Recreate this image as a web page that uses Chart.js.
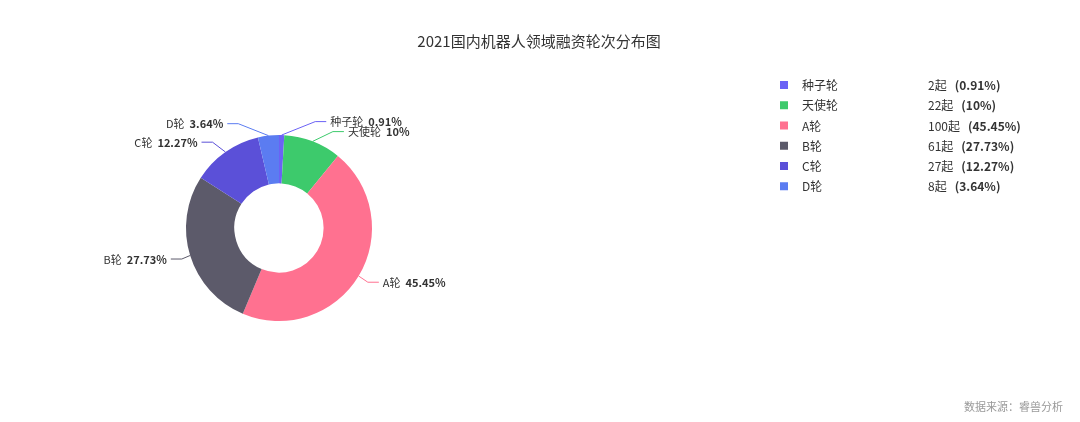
<!DOCTYPE html>
<html>
<head>
<meta charset="utf-8">
<script src="https://cdn.jsdelivr.net/npm/chart.js@4.4.1/dist/chart.umd.min.js"></script>
<style>
  html, body { margin: 0; padding: 0; background: #ffffff; }
  #wrap { width: 1080px; height: 422px; position: relative; }
  canvas { display: block; }
</style>
</head>
<body>
<div id="wrap"><canvas id="c" width="1080" height="422"></canvas></div>
<script>
// ---- data ----
const TITLE = '2021国内机器人领域融资轮次分布图';
const SOURCE = '数据来源：睿兽分析';
const categories = ['种子轮', '天使轮', 'A轮', 'B轮', 'C轮', 'D轮'];
const counts = [2, 22, 100, 61, 27, 8];
const colors = ['#6b62f5', '#3dca6c', '#ff7190', '#5c5a6a', '#5b50d8', '#5b7cf1'];
const unit = '起';

const total = counts.reduce((a, b) => a + b, 0);
function pctText(v) {
  const p = Math.round(v / total * 10000) / 100;
  return String(p) + '%';
}

const FONT = "'Noto Sans CJK SC', 'Noto Sans', sans-serif";

const decorPlugin = {
  id: 'decor',
  afterDatasetsDraw(chart) {
    const ctx = chart.ctx;
    const meta = chart.getDatasetMeta(0);
    const MIN_GAP = 10;
    const items = meta.data.map((arc, i) => {
      const p = arc.getProps(['x', 'y', 'startAngle', 'endAngle', 'outerRadius'], true);
      const mid = (p.startAngle + p.endAngle) / 2;
      const ux = Math.cos(mid), uy = Math.sin(mid);
      const r = p.outerRadius;
      return {
        i, cx: p.x, cy: p.y, r,
        p0x: p.x + r * ux, p0y: p.y + r * uy,
        side: ux >= 0 ? 1 : -1,
        y: p.y + (r + 12) * uy
      };
    });
    [1, -1].forEach(side => {
      const list = items.filter(it => it.side === side).sort((a, b) => a.y - b.y);
      for (let iter = 0; iter < 30; iter++) {
        let moved = false;
        for (let k = 1; k < list.length; k++) {
          const gap = list[k].y - list[k - 1].y;
          if (gap < MIN_GAP - 0.01) {
            const d = (MIN_GAP - gap) / 2;
            list[k - 1].y -= d;
            list[k].y += d;
            moved = true;
          }
        }
        if (!moved) break;
      }
    });
    ctx.save();
    items.forEach(it => {
      const a = it.r + 8, b = it.r + 21;
      const ddy = it.y - it.cy;
      const ex = it.cx + it.side * a * Math.sqrt(Math.max(0, 1 - ddy * ddy / (b * b)));
      const ey = it.y;
      const lx = ex + it.side * 11;
      ctx.strokeStyle = colors[it.i];
      ctx.lineWidth = 1;
      ctx.beginPath();
      ctx.moveTo(it.p0x, it.p0y);
      ctx.lineTo(ex, ey);
      ctx.lineTo(lx, ey);
      ctx.stroke();

      const tx = lx + it.side * 4;
      const name = categories[it.i];
      const pct = pctText(counts[it.i]);
      ctx.textBaseline = 'middle';
      ctx.fillStyle = '#333333';
      ctx.font = `11px ${FONT}`;
      const nameW = ctx.measureText(name).width + 5;
      ctx.font = `bold 11px ${FONT}`;
      const pctW = ctx.measureText(pct).width;
      const startX = it.side > 0 ? tx : tx - nameW - pctW;
      ctx.textAlign = 'left';
      ctx.font = `11px ${FONT}`;
      ctx.fillText(name, startX, ey + 0.5);
      ctx.font = `bold 11px ${FONT}`;
      ctx.fillText(pct, startX + nameW, ey + 0.5);
    });
    ctx.restore();
  },
  afterDraw(chart) {
    const ctx = chart.ctx;
    ctx.save();
    // title
    ctx.fillStyle = '#333333';
    ctx.font = `15px ${FONT}`;
    ctx.textAlign = 'center';
    ctx.textBaseline = 'middle';
    ctx.fillText(TITLE, 539, 41);

    // legend
    const top = 85, step = 20.25;
    categories.forEach((name, i) => {
      const y = top + i * step;
      ctx.fillStyle = colors[i];
      ctx.fillRect(780, y - 4, 8, 8);
      ctx.fillStyle = '#333333';
      ctx.textAlign = 'left';
      ctx.textBaseline = 'middle';
      ctx.font = `12px ${FONT}`;
      ctx.fillText(name, 802, y + 0.5);
      const v = counts[i] + unit;
      ctx.fillText(v, 928, y + 0.5);
      const vw = ctx.measureText(v).width;
      ctx.font = `bold 12px ${FONT}`;
      ctx.fillText('(' + pctText(counts[i]) + ')', 928 + vw + 8, y + 0.5);
    });

    // source
    ctx.fillStyle = '#999999';
    ctx.font = `11px ${FONT}`;
    ctx.textAlign = 'right';
    ctx.textBaseline = 'middle';
    ctx.fillText(SOURCE, 1063, 407);
    ctx.restore();
  }
};

new Chart(document.getElementById('c'), {
  type: 'doughnut',
  data: {
    labels: categories,
    datasets: [{
      data: counts,
      backgroundColor: colors,
      borderWidth: 0,
      hoverBorderWidth: 0,
      hoverOffset: 0,
      offset: 0
    }]
  },
  options: {
    responsive: false,
    devicePixelRatio: 1,
    animation: false,
    cutout: '48%',
    layout: { padding: { left: 186, right: 708, top: 135, bottom: 101 } },
    plugins: {
      legend: { display: false },
      title: { display: false },
      tooltip: { enabled: false }
    }
  },
  plugins: [decorPlugin]
});
</script>
</body>
</html>
